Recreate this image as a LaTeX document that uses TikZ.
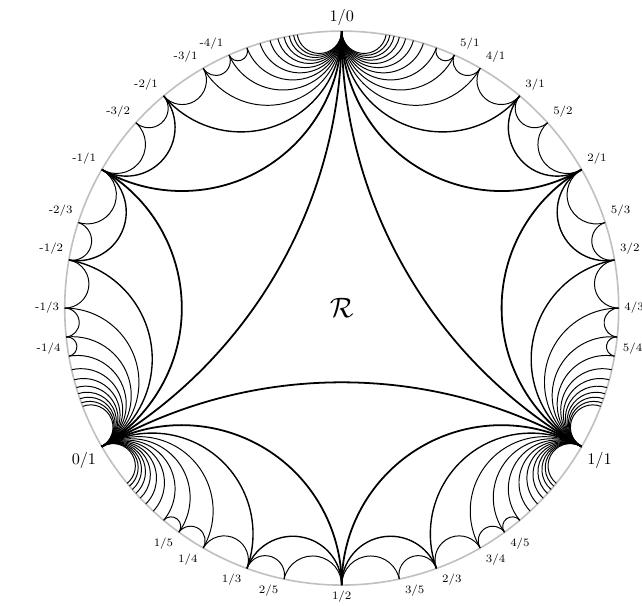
\documentclass[tikz,border=0pt]{standalone}
\usepackage{amsmath,amssymb}
\usepackage{tikz}
\usetikzlibrary{calc}
\usepackage{xcolor}
\definecolor{rimgray}{RGB}{192, 192, 192}

\newcommand{\rad}{6}
\newcommand{\geo}[3][]{%
  \pgfmathsetmacro{\geoM}{(#2+#3)/2}%
  \pgfmathsetmacro{\geoH}{(#3-#2)/2}%
  \pgfmathsetmacro{\geoR}{\rad*tan(\geoH)}%
  \pgfmathsetmacro{\geoS}{\geoM+270-\geoH}%
  \pgfmathsetmacro{\geoE}{\geoM+90+\geoH}%
  \draw[#1] (#2:\rad) arc[start angle=\geoS, end angle=\geoE, radius=\geoR];%
}

\begin{document}
\begin{tikzpicture}[line join=round]
    \tikzstyle{rim} = [draw=rimgray, line width=1pt]
    \tikzstyle{lab} = [font=\scriptsize]
    \tikzstyle{big} = [font=\normalsize]
    \useasboundingbox (-7.402,-6.453) rectangle (6.505,6.674);

    \draw[rim] (0,0) circle (\rad);

    \foreach \k in {0,120,240}{
      \pgfmathsetmacro{\lo}{\k-150}
      \pgfmathsetmacro{\hi}{\k-30}
      \geo[line width=1.1pt]{\lo}{\hi}
      \foreach \n in {2,...,13}{
        \pgfmathsetmacro{\w}{\n==2 ? 1.1 : (\n==3 ? 0.85 : 0.6)}
        \pgfmathsetmacro{\fa}{\lo+120/\n}
        \pgfmathsetmacro{\fb}{\hi-120/\n}
        \geo[line width=\w pt]{\lo}{\fa}
        \geo[line width=\w pt]{\fb}{\hi}
      }
      \foreach \n in {2,...,5}{
        \pgfmathsetmacro{\w}{\n==2 ? 0.85 : 0.6}
        \pgfmathsetmacro{\fa}{\lo+120/(\n+1)}
        \pgfmathsetmacro{\fb}{\lo+120/\n}
        \pgfmathsetmacro{\fc}{\hi-120/\n}
        \pgfmathsetmacro{\fd}{\hi-120/(\n+1)}
        \geo[line width=\w pt]{\fa}{\fb}
        \geo[line width=\w pt]{\fc}{\fd}
      }
      \foreach \u/\v in {40/48, 48/60, 60/72, 72/80}{
        \pgfmathsetmacro{\fa}{\lo+\u}
        \pgfmathsetmacro{\fb}{\lo+\v}
        \geo[line width=0.6pt]{\fa}{\fb}
      }
    }

    \foreach \t/\lb/\lr/\ll in {24/{1/5}/{5/4}/{-4/1}, 30/{1/4}/{4/3}/{-3/1},
        40/{1/3}/{3/2}/{-2/1}, 48/{2/5}/{5/3}/{-3/2}, 60/{1/2}/{2/1}/{-1/1},
        72/{3/5}/{5/2}/{-2/3}, 80/{2/3}/{3/1}/{-1/2}, 90/{3/4}/{4/1}/{-1/3},
        96/{4/5}/{5/1}/{-1/4}}{
      \pgfmathsetmacro{\angb}{\t-150}
      \pgfmathsetmacro{\angr}{\t-30}
      \pgfmathsetmacro{\angl}{\t+90}
      \coordinate[label={[lab]\angb:\lb}] (b\t) at (\angb:\rad);
      \coordinate[label={[lab]\angr:\lr}] (r\t) at (\angr:\rad);
      \coordinate[label={[lab]\angl:\ll}] (l\t) at (\angl:\rad);
    }
    \coordinate[label={[big]90:1/0}] (inf) at (90:\rad);
    \coordinate[label={[big]210:0/1}] (zero) at (210:\rad);
    \coordinate[label={[big]330:1/1}] (one) at (330:\rad);

    \node (reg) at (0,0) {\LARGE $\mathcal{R}$};
\end{tikzpicture}
\end{document}
